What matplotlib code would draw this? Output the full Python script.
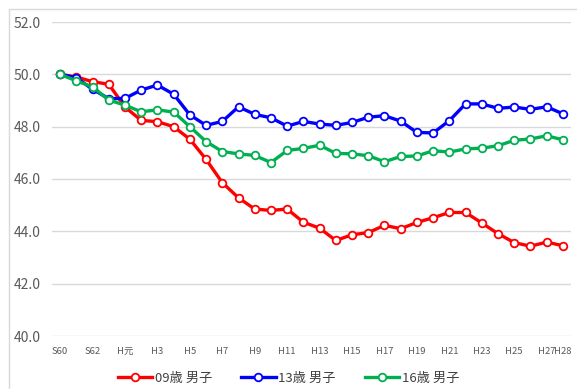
import matplotlib
matplotlib.use('Agg')
import matplotlib.pyplot as plt
from matplotlib.patches import Rectangle
import numpy as np

plt.rcParams['font.family'] = ['Noto Sans CJK JP', 'DejaVu Sans']

# x categories (S60 .. H28), one per year
years = ['S60', 'S61', 'S62', 'S63', 'H元', 'H2', 'H3', 'H4', 'H5', 'H6', 'H7', 'H8',
         'H9', 'H10', 'H11', 'H12', 'H13', 'H14', 'H15', 'H16', 'H17', 'H18', 'H19',
         'H20', 'H21', 'H22', 'H23', 'H24', 'H25', 'H26', 'H27', 'H28']
shown_labels = ['S60', 'S62', 'H元', 'H3', 'H5', 'H7', 'H9', 'H11', 'H13', 'H15',
                'H17', 'H19', 'H21', 'H23', 'H25', 'H27', 'H28']

boys09 = [50.0, 49.9, 49.72, 49.62, 48.75, 48.24, 48.19, 48.0, 47.52, 46.75, 45.86,
          45.28, 44.85, 44.8, 44.85, 44.35, 44.12, 43.65, 43.87, 43.95, 44.23, 44.1,
          44.34, 44.52, 44.72, 44.72, 44.32, 43.91, 43.57, 43.43, 43.59, 43.45]
boys13 = [50.0, 49.87, 49.43, 49.07, 49.08, 49.4, 49.59, 49.24, 48.45, 48.05, 48.2,
          48.76, 48.47, 48.34, 48.02, 48.2, 48.1, 48.05, 48.16, 48.36, 48.42, 48.21,
          47.78, 47.76, 48.23, 48.87, 48.87, 48.7, 48.75, 48.66, 48.76, 48.49]
boys16 = [50.0, 49.75, 49.52, 49.02, 48.82, 48.57, 48.64, 48.56, 48.0, 47.43, 47.05,
          46.96, 46.9, 46.63, 47.09, 47.17, 47.29, 46.98, 46.96, 46.89, 46.66, 46.86,
          46.88, 47.08, 47.03, 47.15, 47.18, 47.27, 47.48, 47.53, 47.65, 47.5]

series = [('09歳 男子', boys09, '#FF0000'),
          ('13歳 男子', boys13, '#0000FF'),
          ('16歳 男子', boys16, '#00B050')]

fig = plt.figure(figsize=(5.77, 3.89), dpi=100)
ax = fig.add_axes([52/577, 53/389, (571-52)/577, (367-53)/389])

# chart area border (light gray frame)
fig.patches.append(Rectangle((9/577, -0.1), 1.2, (380/389) + 0.1, transform=fig.transFigure,
                             fill=False, edgecolor='#D9D9D9', linewidth=1.0))

x = np.arange(len(years))
for name, vals, col in series:
    ax.plot(x, vals, color=col, linewidth=2.4, marker='o', markersize=5.5,
            markerfacecolor='white', markeredgecolor=col, markeredgewidth=1.3,
            label=name, zorder=3)

ax.set_xlim(-0.5, len(years) - 0.5)
ax.set_ylim(40, 52)
yt = np.arange(40, 52.1, 2)
ax.set_yticks(yt)
ax.set_yticklabels([f'{v:.1f}' for v in yt], fontsize=10, color='#595959')
ax.yaxis.grid(True, color='#D9D9D9', linewidth=1.0)
ax.set_axisbelow(True)

ax.set_xticks([years.index(l) for l in shown_labels])
ax.set_xticklabels(shown_labels, fontsize=6.8, color='#595959')
ax.tick_params(axis='both', length=0)
ax.tick_params(axis='x', pad=8)
ax.tick_params(axis='y', pad=8)
for s in ax.spines.values():
    s.set_visible(False)

fig.legend(loc='center', bbox_to_anchor=(0.5, 11/389), ncol=3, frameon=False,
           fontsize=9.5, handlelength=2.6, columnspacing=2.2, handletextpad=0.2,
           labelcolor='#404040')

fig.savefig('out.png', dpi=100)
